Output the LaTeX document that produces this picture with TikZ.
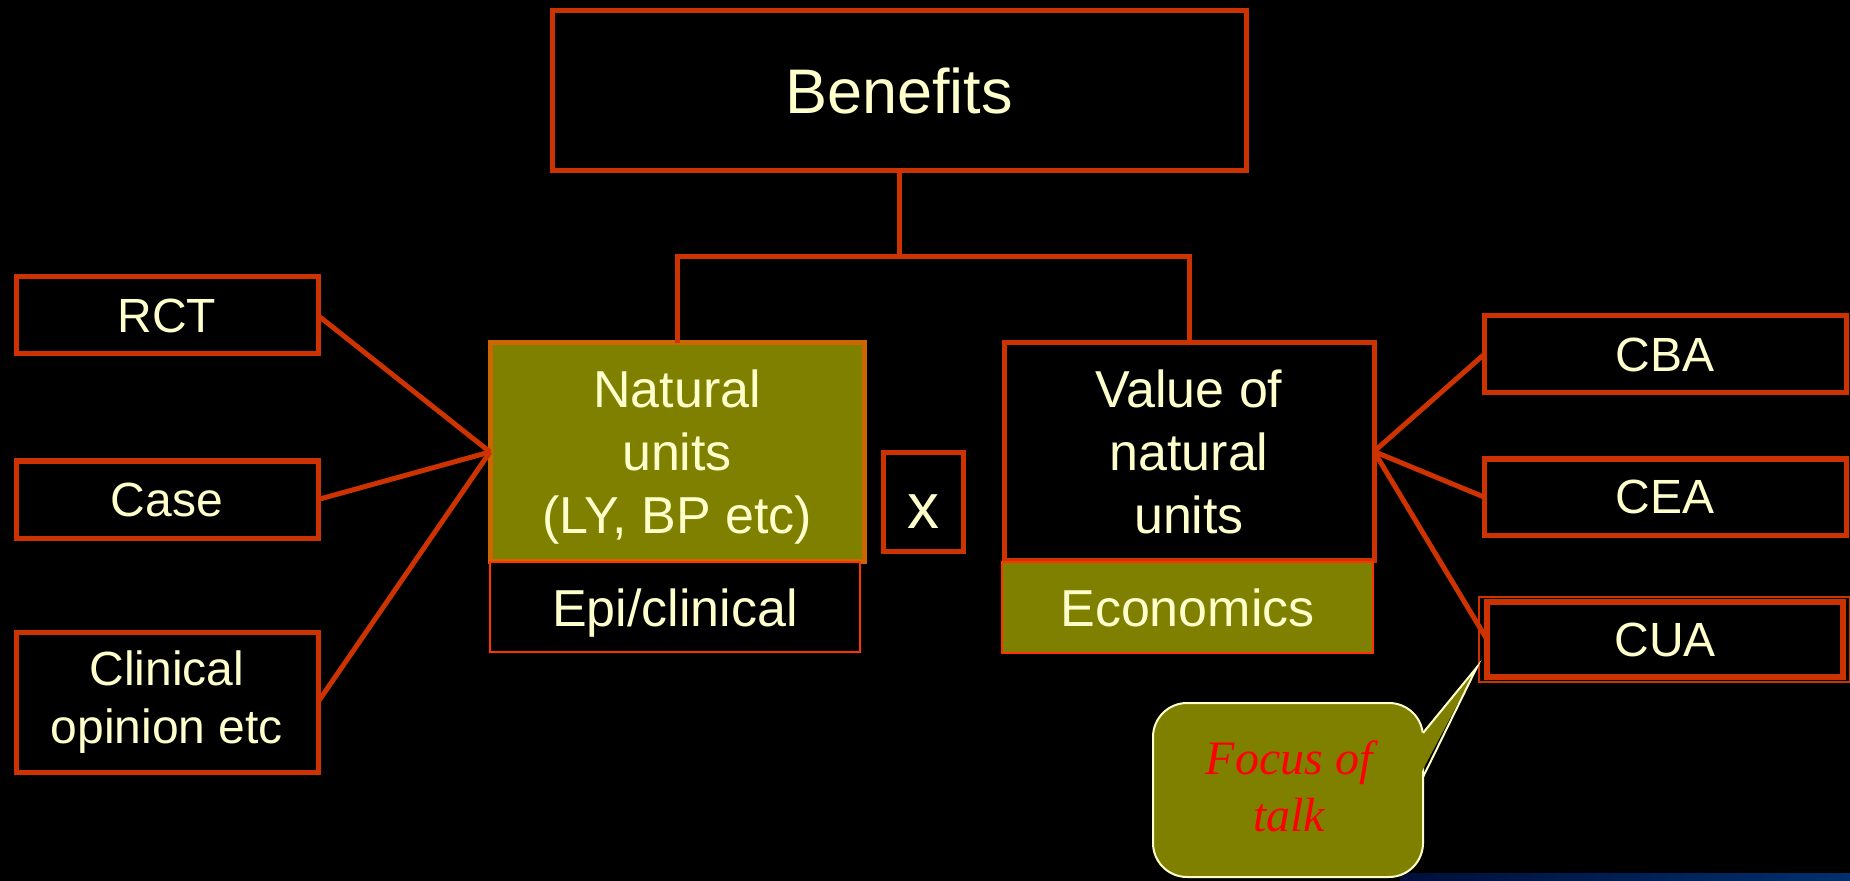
\documentclass[tikz,border=0pt]{standalone}
\usepackage{fontspec}
\setmainfont{Liberation Sans}
\newfontfamily\talkfont{Liberation Serif}
\usetikzlibrary{calc}

\definecolor{boxred}{HTML}{CC3300}
\definecolor{natorange}{HTML}{CC6600}
\definecolor{thinred}{HTML}{FF3300}
\definecolor{olivebox}{HTML}{808000}
\definecolor{cream}{HTML}{FFFFCC}
\definecolor{talkred}{HTML}{FF0000}
\definecolor{stripdark}{HTML}{000F3A}
\definecolor{stripblue}{HTML}{00306E}

\begin{document}
\begin{tikzpicture}[x=0.5pt, y=-0.5pt,
    box/.style={rectangle, draw=boxred, line width=2.5pt, fill=black, text=cream, align=center,
        inner sep=0pt, outer sep=0pt, font=\fontsize{24}{29.3}\selectfont},
    bigbox/.style={box, text depth=0pt, font=\fontsize{26}{31.5}\selectfont},
    tagbox/.style={rectangle, draw=thinred, line width=0.75pt, text=cream, inner sep=0pt,
        outer sep=0pt, text height=19pt, text depth=0pt, font=\fontsize{26}{31.5}\selectfont},
    link/.style={draw=boxred, line width=2.5pt}
]
    \useasboundingbox (0,0) rectangle (1850,881);
    % Sfondo
    \fill[black] (0,0) rectangle (1850,881);
    \shade[left color=stripdark, right color=stripblue] (1400,873) rectangle (1850,881);

    % Radice
    \node[box, minimum width=347pt, minimum height=80pt, font=\fontsize{31.5}{36}\selectfont]
        (benefits) at (899,91) {Benefits};

    % Livello centrale
    \node[bigbox, draw=natorange, fill=olivebox, minimum width=187pt, minimum height=109pt]
        (nat) at (677,452) {Natural\\units\\(LY, BP etc)};
    \node[tagbox, fill=black, minimum width=185pt, minimum height=45pt] (epi) at (675,607) {Epi/clinical};
    \node[bigbox, minimum width=40pt, minimum height=49pt, text height=26pt,
        font=\fontsize{32}{36}\selectfont] (times) at (923,502) {x};
    \node[bigbox, minimum width=185pt, minimum height=108.5pt]
        (val) at (1189,451.5) {Value of\\natural\\units};
    \node[tagbox, fill=olivebox, minimum width=185.5pt, minimum height=45.5pt] (eco) at (1187.5,607.5) {Economics};

    % Fonti a sinistra
    \node[box, minimum width=151pt, minimum height=38.5pt] (rct) at (167,315.5) {RCT};
    \node[box, minimum width=151pt, minimum height=38.5pt] (case) at (167,499.5) {Case};
    \node[box, minimum width=151pt, minimum height=70pt] (opin) at (167,702) {Clinical\\opinion etc};

    % Analisi a destra
    \node[box, minimum width=181pt, minimum height=38.5pt] (cba) at (1665,354.5) {CBA};
    \node[box, minimum width=181pt, minimum height=38pt] (cea) at (1665,497) {CEA};
    \node[box, line width=2.7pt, minimum width=178pt, minimum height=37.5pt] (cua) at (1665,639.5) {CUA};
    \draw[boxred, line width=1pt] ($(cua.north west)+(-8.5,-5.5)$) rectangle ($(cua.south east)+(7,5)$);

    % Collegamenti
    \coordinate (split) at (899,257);
    \draw[link] (benefits.south) -- (split);
    \draw[link] (nat.north) |- (split) -| (val.north);
    \draw[link] (rct.east) -- (nat.west);
    \draw[link] (case.east) -- (nat.west);
    \draw[link] (opin.east) -- (nat.west);
    \draw[link] (val.east) -- (cba.west);
    \draw[link] (val.east) -- (cea.west);
    \draw[link] (val.east) -- (cua.west);

    % Fumetto
    \coordinate (tip) at (1477,667);
    \draw[draw=cream, fill=olivebox, line width=1pt, rounded corners=17pt] (1153,703) rectangle (1423,877);
    \fill[olivebox] (1420,735) -- (tip) -- (1420,775) -- cycle;
    \draw[cream, line width=1pt] (1423,733) -- (tip) -- (1423,777);
    \node[text=talkred, align=center, font=\talkfont\itshape\fontsize{24}{28.5}\selectfont]
        (focus) at (1289,786) {Focus of\\talk};
\end{tikzpicture}
\end{document}
